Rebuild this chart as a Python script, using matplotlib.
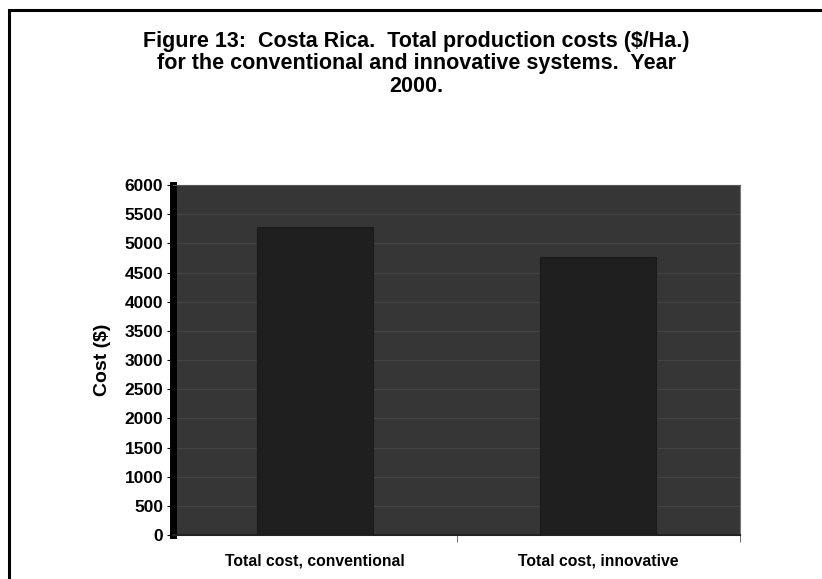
"""Figure 13: Costa Rica total production costs, conventional vs innovative."""

import matplotlib
matplotlib.use("Agg")
import matplotlib.pyplot as plt
from matplotlib.patches import Rectangle
import numpy as np

plt.rcParams["font.family"] = ["Liberation Sans", "DejaVu Sans"]

categories = ["Total cost, conventional", "Total cost, innovative"]
costs = [5280, 4760]
y_ticks = list(range(0, 6001, 500))

TITLE = ("Figure 13:  Costa Rica.  Total production costs ($/Ha.)\n"
         "for the conventional and innovative systems.  Year\n"
         "2000.")


def main() -> None:
    fig = plt.figure(figsize=(8.22, 5.79), dpi=100)
    W, H = 822, 579

    # outer frame (runs off the right / bottom edge like the scan)
    fig.patches.append(Rectangle((9 / W, -0.05), 1.1, 1 - 10 / H + 0.05,
                                 transform=fig.transFigure, fill=False,
                                 edgecolor="black", linewidth=2.2))

    fig.text(416 / W, 1 - 31 / H, TITLE, ha="center", va="top",
             fontsize=15.5, fontweight="bold", linespacing=1.08)

    ax = fig.add_axes([173 / W, 1 - 535 / H, (740 - 173) / W, (535 - 185) / H])
    ax.set_facecolor("#363636")

    x = np.arange(len(categories))
    ax.bar(x, costs, width=0.41, color="#1f1f1f", edgecolor="#1a1a1a",
           linewidth=0.8, zorder=3)

    for v in y_ticks[1:]:
        ax.axhline(v, color="#444444", linewidth=0.8, zorder=1)

    ax.set_xlim(-0.5, len(categories) - 0.5)
    ax.set_ylim(0, 6000)
    ax.set_yticks(y_ticks)
    ax.set_yticklabels([str(v) for v in y_ticks], fontsize=12.5, fontweight="bold")
    ax.set_xticks(x)
    ax.set_xticklabels(categories, fontsize=11.3, fontweight="bold")
    ax.tick_params(axis="x", length=0, pad=13)
    ax.set_xticks([0.5, 1.5], minor=True)
    ax.tick_params(axis="x", which="minor", length=5, color="#555555")
    ax.tick_params(axis="y", length=4, width=0.8, pad=3)

    ax.set_ylabel("Cost ($)", fontsize=14, fontweight="bold", labelpad=10)

    ax.spines["left"].set_linewidth(5)
    ax.spines["left"].set_color("black")
    ax.spines["bottom"].set_color("#222222")
    ax.spines["bottom"].set_linewidth(1.5)
    ax.spines["top"].set_color("#555555")
    ax.spines["right"].set_color("#777777")

    fig.savefig("out.png", dpi=100)
    plt.close(fig)


if __name__ == "__main__":
    main()
